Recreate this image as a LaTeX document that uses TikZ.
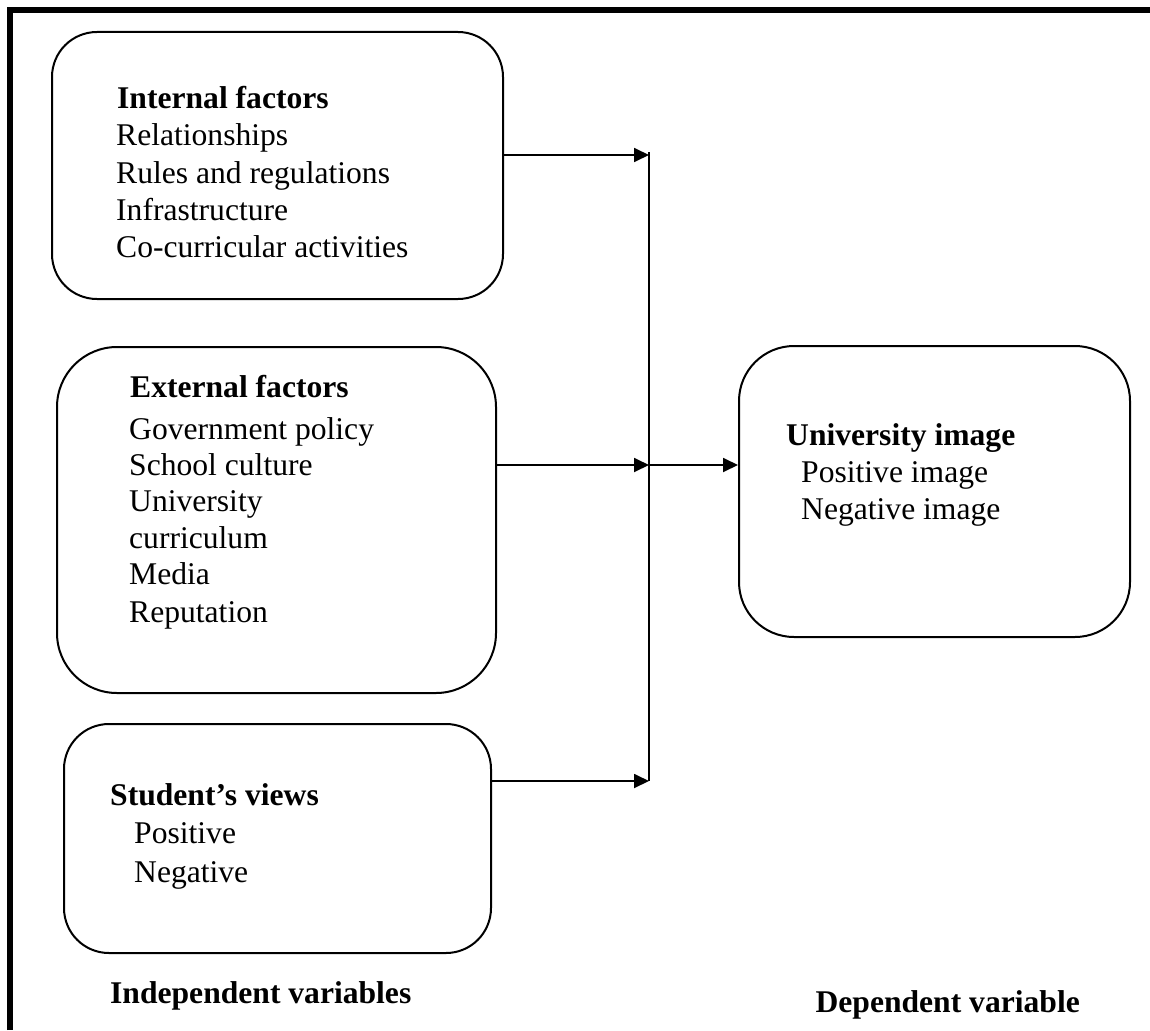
\documentclass[tikz,border=0pt]{standalone}
\usepackage{fontspec}
\setmainfont{Liberation Serif}
\usetikzlibrary{arrows.meta}
\begin{document}
\begin{tikzpicture}[x=1pt,y=-1pt,
  box/.style={draw, line width=2pt, inner sep=0pt, rounded corners=#1},
  txt/.style={anchor=base west, inner sep=0pt, font=\fontsize{31.6}{37}\selectfont},
  hd/.style={txt, font=\fontsize{31.6}{37}\selectfont\bfseries},
  arr/.style={line width=1.8pt, -{Triangle[length=15pt,width=14pt]}},
  ln/.style={line width=1.8pt}]
\useasboundingbox (0,0) rectangle (1150,1030);
% frame
\draw[line width=6pt] (10,1030) -- (10,10) -- (1150,10);
% boxes
\node[box=45pt, minimum width=451pt, minimum height=267pt] (b1) at (277.5,165.5) {};
\node[box=60pt, minimum width=439pt, minimum height=346pt] (b2) at (276.5,520) {};
\node[box=45pt, minimum width=427pt, minimum height=229pt] (b3) at (277.5,838.5) {};
\node[box=55pt, minimum width=391pt, minimum height=291pt] (b4) at (934.5,491.5) {};
% texts box 1
\node[hd]  (t1h) at (117,109) {Internal factors};
\node[txt] (t1a) at (116,146) {Relationships};
\node[txt] (t1b) at (116,183) {Rules and regulations};
\node[txt] (t1c) at (116,220) {Infrastructure};
\node[txt] (t1d) at (116,257) {Co-curricular activities};
% texts box 2
\node[hd]  (t2h) at (130,397) {External factors};
\node[txt] (t2a) at (129,439) {Government policy};
\node[txt] (t2b) at (129,475) {School culture};
\node[txt] (t2c) at (129,511) {University};
\node[txt] (t2d) at (129,548) {curriculum};
\node[txt] (t2e) at (129,584) {Media};
\node[txt] (t2f) at (129,622) {Reputation};
% texts box 3
\node[hd]  (t3h) at (110,805) {Student’s views};
\node[txt] (t3a) at (134,843) {Positive};
\node[txt] (t3b) at (134,882) {Negative};
% texts box 4
\node[hd]  (t4h) at (786,445) {University image};
\node[txt] (t4a) at (801,482) {Positive image};
\node[txt] (t4b) at (801,519) {Negative image};
% bottom labels
\node[hd] (lind) at (110,1003) {Independent variables};
\node[hd, anchor=base east] (ldep) at (1080,1012) {Dependent variable};
% connectors
\coordinate (j1) at (649,155);
\coordinate (j2) at (649,465);
\coordinate (j3) at (649,781);
\coordinate (jt) at (649,152);
\draw[ln] (jt) -- (j3);
\draw[arr] (b1.east |- j1) -- (j1);
\draw[arr] (b2.east |- j2) -- (j2);
\draw[arr] (b3.east |- j3) -- (j3);
\draw[arr] (j2) -- (b4.west |- j2);
\end{tikzpicture}
\end{document}
